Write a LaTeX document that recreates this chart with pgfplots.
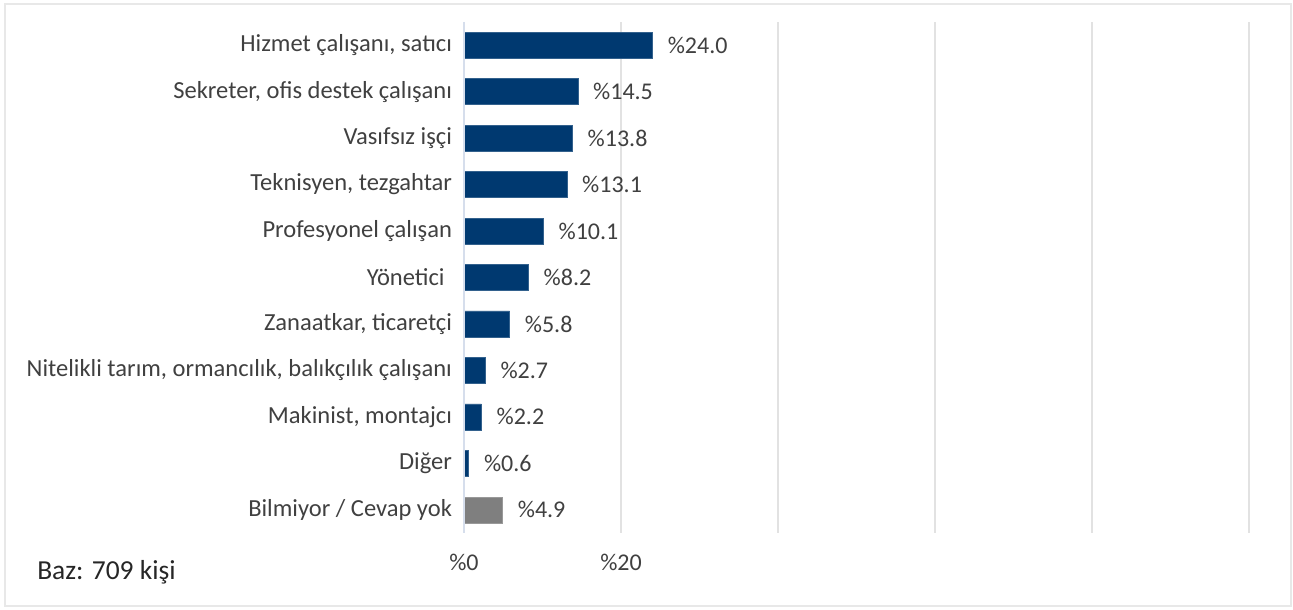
\documentclass[border=0pt]{standalone}
\usepackage{pgfplots}
\pgfplotsset{compat=1.18}
\usepackage{fontspec}
\setmainfont{Carlito}
\definecolor{barblue}{RGB}{0,57,112}
\definecolor{bargray}{RGB}{127,127,127}
\definecolor{txt}{RGB}{64,64,64}
\definecolor{gridc}{RGB}{226,226,226}
\definecolor{axisc}{RGB}{214,222,236}

\begin{document}
\begin{tikzpicture}
  \begin{axis}[
    at={(348pt,57.75pt)}, anchor=south west,
    scale only axis,
    width=588.75pt, height=383.25pt,
    xbar, bar width=19.5pt, bar shift=0pt,
    xmin=0, xmax=100,
    ymin=-0.5, ymax=10.5,
    y dir=reverse,
    xtick={0,20,40,60,80,100},
    xticklabels={\%0,\%20,,,,},
    ytick={0,...,10},
    yticklabels={{Hizmet çalışanı, satıcı}, {Sekreter, ofis destek çalışanı}, {Vasıfsız işçi},
      {Teknisyen, tezgahtar}, {Profesyonel çalışan}, {Yönetici\hspace*{0.3em}}, {Zanaatkar, ticaretçi},
      {Nitelikli tarım, ormancılık, balıkçılık çalışanı}, {Makinist, montajcı}, {Diğer},
      {Bilmiyor / Cevap yok}},
    xmajorgrids, grid style={gridc, line width=0.9pt},
    axis line style={draw=none},
    major tick length=0pt,
    tick label style={font=\fontsize{18}{20}\selectfont, text=txt},
    yticklabel style={font=\fontsize{18.4}{20}\selectfont, xshift=-5.5pt},
    xticklabel style={yshift=-12.5pt},
    nodes near coords={\%\pgfmathprintnumber[fixed,fixed zerofill,precision=1]{\pgfplotspointmeta}},
    nodes near coords style={font=\fontsize{18}{20}\selectfont, text=txt, anchor=west, xshift=8pt},
    /pgf/number format/assume math mode=true,
    clip=false,
  ]
    \addplot[fill=barblue, draw=barblue!80!white] coordinates {
      (24.0,0) (14.5,1) (13.8,2) (13.1,3) (10.1,4) (8.2,5)
      (5.8,6) (2.7,7) (2.2,8) (0.6,9)
    };
    \addplot[fill=bargray, draw=bargray!80!white] coordinates {
      (4.9,10)
    };
    \draw[axisc, line width=1.5pt] (axis cs:0,-0.5) -- (axis cs:0,10.5);
  \end{axis}
  \node[anchor=base west, inner sep=0pt, font=\fontsize{20.6}{22}\selectfont, text=black!85] at (27.75pt,23pt) {Baz: 709 kişi};
  \draw[gray!18, line width=1.5pt] (3.75pt,3pt) rectangle (968.25pt,454.5pt);
  \pgfresetboundingbox
  \useasboundingbox (0,0) rectangle (969.75pt,457.5pt);
\end{tikzpicture}
\end{document}
